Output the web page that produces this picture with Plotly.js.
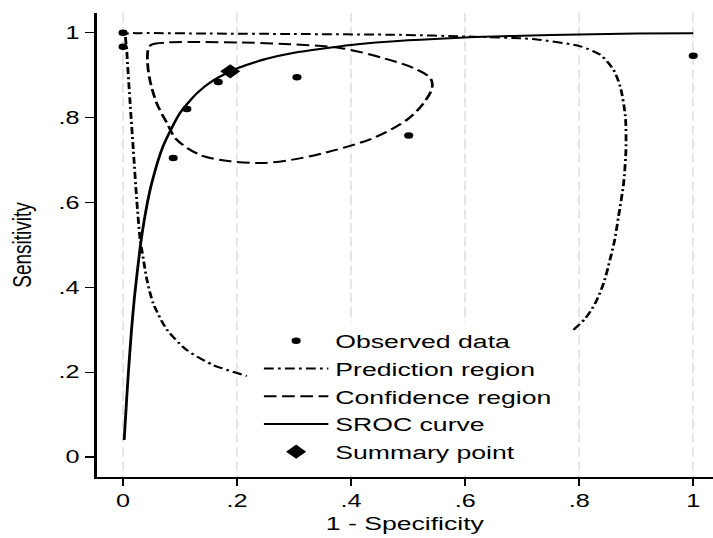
<!DOCTYPE html>
<html>
<head>
<meta charset="utf-8">
<script src="https://cdn.plot.ly/plotly-3.0.1.min.js"></script>
<style>
  html, body { margin: 0; padding: 0; background: #ffffff; overflow: hidden; }
  #plot { width: 509px; height: 538px; transform: scaleX(1.40079); transform-origin: 0 0; }
</style>
</head>
<body>
<div id="plot"></div>
<script>
// Observed study data (1 - specificity, sensitivity)
const obsFpr  = [0.000, 0.000, 0.088, 0.112, 0.167, 0.305, 0.501, 1.000];
const obsSens = [1.000, 0.967, 0.705, 0.820, 0.884, 0.895, 0.758, 0.946];

// Summary operating point
const sumFpr  = [0.188];
const sumSens = [0.909];

// SROC curve
const srocFpr  = [0.002, 0.004, 0.007, 0.010, 0.015, 0.020, 0.030, 0.040, 0.050, 0.070, 0.100, 0.130, 0.160, 0.200, 0.250, 0.300, 0.400, 0.500, 0.600, 0.700, 0.800, 0.900, 1.000];
const srocSens = [0.040, 0.085, 0.151, 0.212, 0.302, 0.377, 0.494, 0.580, 0.644, 0.732, 0.811, 0.858, 0.889, 0.916, 0.938, 0.953, 0.971, 0.982, 0.989, 0.993, 0.996, 0.998, 0.999];

// 95% confidence region (closed contour)
const confFpr  = [0.044, 0.050, 0.077, 0.118, 0.205, 0.293, 0.381, 0.457, 0.509, 0.539, 0.542, 0.527, 0.498, 0.439, 0.351, 0.293, 0.246, 0.188, 0.135, 0.094, 0.077, 0.059, 0.047, 0.043, 0.044];
const confSens = [0.960, 0.972, 0.977, 0.978, 0.977, 0.973, 0.964, 0.940, 0.917, 0.893, 0.870, 0.834, 0.795, 0.752, 0.716, 0.700, 0.693, 0.697, 0.712, 0.748, 0.787, 0.834, 0.889, 0.929, 0.960];

// 95% prediction region (visible part, legend hides the rest)
const predFpr  = [0.790, 0.811, 0.828, 0.843, 0.854, 0.862, 0.869, 0.878, 0.882, 0.881, 0.872, 0.860, 0.837, 0.802, 0.719, 0.603, 0.486, 0.300, 0.150, 0.030, 0.006, 0.0065, 0.012, 0.018, 0.024, 0.030, 0.034, 0.042, 0.053, 0.077, 0.112, 0.158, 0.217];
const predSens = [0.300, 0.327, 0.362, 0.410, 0.465, 0.510, 0.567, 0.646, 0.724, 0.803, 0.873, 0.913, 0.948, 0.968, 0.985, 0.991, 0.995, 0.997, 0.998, 0.999, 0.997, 0.960, 0.842, 0.724, 0.606, 0.512, 0.480, 0.417, 0.362, 0.300, 0.252, 0.217, 0.191];

// Axis ticks
const xTickVals = [0, 0.2, 0.4, 0.6, 0.8, 1];
const xTickText = ["0", ".2", ".4", ".6", ".8", "1"];
const yTickVals = [0, 0.2, 0.4, 0.6, 0.8, 1];
const yTickText = ["0", ".2", ".4", ".6", ".8", "1"];

const traces = [
  {
    x: obsFpr, y: obsSens, type: 'scatter', mode: 'markers', name: 'Observed data',
    marker: { symbol: 'circle', size: 6.5, color: '#000000' }
  },
  {
    x: predFpr, y: predSens, type: 'scatter', mode: 'lines', name: 'Prediction region',
    line: { color: '#000000', width: 2, dash: '7px,3px,2px,3px', shape: 'spline', smoothing: 0.7 }
  },
  {
    x: confFpr, y: confSens, type: 'scatter', mode: 'lines', name: 'Confidence region',
    line: { color: '#000000', width: 2, dash: '9px,4px', shape: 'spline', smoothing: 0.9 }
  },
  {
    x: srocFpr, y: srocSens, type: 'scatter', mode: 'lines', name: 'SROC curve',
    line: { color: '#000000', width: 2, shape: 'spline', smoothing: 0.6 }
  },
  {
    x: sumFpr, y: sumSens, type: 'scatter', mode: 'markers', name: 'Summary point',
    marker: { symbol: 'diamond', size: 11, color: '#000000' }
  }
];

const font = 'Liberation Sans, Arial, Helvetica, sans-serif';

const layout = {
  width: 509, height: 538,
  margin: { l: 69, r: 0, t: 13, b: 61 },
  paper_bgcolor: '#ffffff', plot_bgcolor: '#ffffff',
  font: { family: font, size: 18, color: '#000000' },
  showlegend: true,
  legend: {
    x: 0.26, xanchor: 'left', y: 0.334, yanchor: 'top',
    bgcolor: '#ffffff', borderwidth: 0,
    font: { family: font, size: 19, color: '#000000' },
    itemwidth: 46, tracegroupgap: 0
  },
  xaxis: {
    range: [-0.0463, 1.0347], autorange: false,
    tickvals: xTickVals, ticktext: xTickText,
    ticks: 'outside', ticklen: 7, tickwidth: 1.3, tickcolor: '#000000',
    showline: true, linecolor: '#000000', linewidth: 1.6,
    showgrid: true, gridcolor: '#e6e6e6', gridwidth: 1.4, griddash: '10px,4px',
    zeroline: false,
    tickfont: { family: font, size: 18, color: '#000000' },
    title: { text: '1 - Specificity', font: { family: font, size: 19, color: '#000000' }, standoff: 6 }
  },
  yaxis: {
    range: [-0.047, 1.0465], autorange: false,
    tickvals: yTickVals, ticktext: yTickText,
    ticks: 'outside', ticklen: 7, tickwidth: 1.3, tickcolor: '#000000',
    showline: true, linecolor: '#000000', linewidth: 1.6,
    showgrid: false, zeroline: false,
    tickfont: { family: font, size: 18, color: '#000000' },
    title: { text: 'Sensitivity', font: { family: font, size: 19, color: '#000000' }, standoff: 14 }
  }
};

Plotly.newPlot('plot', traces, layout, { displayModeBar: false, staticPlot: true });
</script>
</body>
</html>
